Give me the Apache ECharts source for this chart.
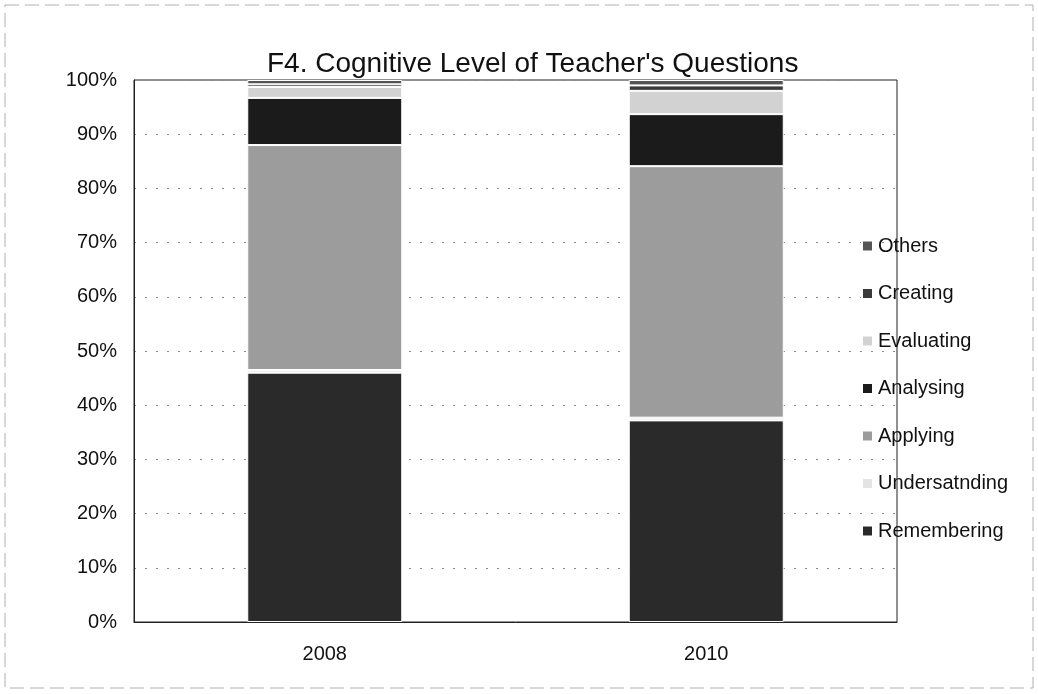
<!DOCTYPE html>
<html>
<head>
<meta charset="utf-8">
<title>F4. Cognitive Level of Teacher's Questions</title>
<script src="https://cdn.jsdelivr.net/npm/echarts@6/dist/echarts.min.js"></script>
<style>
  html, body { margin: 0; padding: 0; background: #fff; }
  #chart { width: 1038px; height: 694px; }
</style>
</head>
<body>
<div id="chart"></div>
<script>
// Survey years on the category axis
const years = ['2008', '2010'];

// Share of teacher questions per cognitive level (percent of all questions)
const remembering   = [46.0, 37.2];
const understanding = [0.5, 0.5];
const applying      = [41.5, 46.4];
const analysing     = [8.7, 9.6];
const evaluating    = [2.0, 4.3];
const creating      = [0.5, 1.0];
const others        = [0.8, 1.0];

// Value-axis ticks
const yTicks = [0, 10, 20, 30, 40, 50, 60, 70, 80, 90, 100];

const font = 'Liberation Sans, Arial, sans-serif';

const levels = [
  { name: 'Remembering',   data: remembering,   color: '#2a2a2a' },
  { name: 'Undersatnding', data: understanding, color: '#e4e4e4' },
  { name: 'Applying',      data: applying,      color: '#9c9c9c' },
  { name: 'Analysing',     data: analysing,     color: '#1b1b1b' },
  { name: 'Evaluating',    data: evaluating,    color: '#d2d2d2' },
  { name: 'Creating',      data: creating,      color: '#3a3a3a' },
  { name: 'Others',        data: others,        color: '#555555' }
];

const chart = echarts.init(document.getElementById('chart'), null, { renderer: 'canvas' });

chart.setOption({
  backgroundColor: '#ffffff',
  animation: false,
  title: {
    text: "F4. Cognitive Level of Teacher's Questions",
    left: 262,
    top: 45,
    textStyle: { fontFamily: font, fontSize: 28, fontWeight: 'normal', color: '#111' }
  },
  graphic: [{
    type: 'rect',
    shape: { x: 5, y: 5, width: 1028, height: 683 },
    style: { fill: 'none', stroke: '#b0b0b0', lineWidth: 1, lineDash: [14, 6] },
    silent: true
  }],
  legend: {
    orient: 'vertical',
    left: 856,
    top: 231,
    itemWidth: 11,
    itemHeight: 11,
    itemGap: 27.5,
    icon: 'rect',
    data: ['Others', 'Creating', 'Evaluating', 'Analysing', 'Applying', 'Undersatnding', 'Remembering'],
    textStyle: { fontFamily: font, fontSize: 20, color: '#111' }
  },
  grid: {
    left: 134, right: 141, top: 80, bottom: 72,
    show: true, borderColor: '#222', borderWidth: 1, backgroundColor: 'transparent'
  },
  xAxis: {
    type: 'category',
    data: years,
    axisLine: { show: true, lineStyle: { color: '#222', width: 1 } },
    axisTick: { show: false },
    axisLabel: { fontFamily: font, fontSize: 20, color: '#111', margin: 22 }
  },
  yAxis: {
    type: 'value',
    min: yTicks[0],
    max: yTicks[yTicks.length - 1],
    interval: yTicks[1] - yTicks[0],
    axisLine: { show: true, lineStyle: { color: '#222', width: 1 } },
    axisTick: { show: false },
    axisLabel: { fontFamily: font, fontSize: 20, color: '#111', margin: 17, formatter: '{value}%' },
    splitLine: { show: true, lineStyle: { color: '#8a8a8a', type: [2, 9], width: 1 } }
  },
  series: levels.map(l => ({
    name: l.name,
    type: 'bar',
    stack: 'total',
    barWidth: 155,
    data: l.data,
    itemStyle: { color: l.color, borderColor: '#ffffff', borderWidth: 1 },
    emphasis: { disabled: true }
  }))
});
</script>
</body>
</html>
